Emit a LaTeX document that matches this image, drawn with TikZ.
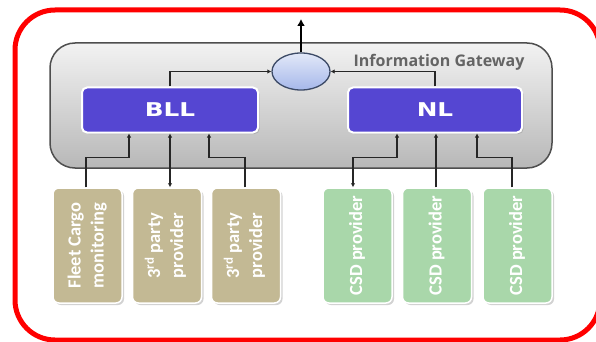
\documentclass[tikz,border=0pt]{standalone}
\usepackage{fontspec}
\setmainfont{Carlito}
\newfontfamily\gwfont{Open Sans}
\newfontfamily\blfont{DejaVu Sans}
\usetikzlibrary{shadows,arrows.meta,shapes.geometric}
\definecolor{srcTan}{HTML}{C3B994}
\definecolor{srcGreen}{HTML}{A9D7AA}
\definecolor{layerBlue}{HTML}{5546D2}
\definecolor{gwEdge}{HTML}{4E4E4E}
\definecolor{gwText}{HTML}{646464}
\definecolor{hubEdge}{HTML}{3C4A66}
\definecolor{hubTop}{HTML}{E2E8F8}
\definecolor{hubBot}{HTML}{A6B8EA}
\tikzset{
  gwbox/.style={draw=gwEdge, line width=1.5pt, rounded corners=25pt, top color=white!95!black, bottom color=black!28, inner sep=0pt},
  layer/.style={fill=layerBlue, draw=white, line width=2pt, rounded corners=5pt, inner sep=0pt,
    drop shadow={shadow xshift=1.5pt, shadow yshift=-1.5pt, opacity=0.35},
    text=white, font=\blfont\bfseries\fontsize{19}{19}\selectfont},
  src/.style={draw=white, line width=1.5pt, rounded corners=6pt, inner sep=0pt,
    minimum width=69pt, minimum height=115pt,
    drop shadow={shadow xshift=2pt, shadow yshift=-2pt, opacity=0.35},
    text=white, font=\bfseries\fontsize{18.5}{23}\selectfont},
  tanbox/.style={src, fill=srcTan},
  greenbox/.style={src, fill=srcGreen},
  conn/.style={draw=black!85, line width=1.1pt, -{Latex[length=4pt,width=4.5pt]}},
  biconn/.style={draw=black!85, line width=1.1pt, {Latex[length=4pt,width=4.5pt]}-{Latex[length=4pt,width=4.5pt]}},
}
\newcommand{\vtext}[1]{\rotatebox{90}{\begin{tabular}{@{}c@{}}#1\end{tabular}}}
\begin{document}
\begin{tikzpicture}[x=1pt,y=-1pt]
\useasboundingbox (0,0) rectangle (596,342);
\fill[white] (0,0) rectangle (596,342);
% red frame
\draw[red, line width=5pt, rounded corners=40pt] (15,10) rectangle (600,340);
% gateway
\node[gwbox, minimum width=502pt, minimum height=125pt] (gw) at (301,105.5) {};
\node[font=\gwfont\bfseries\fontsize{16}{16}\selectfont, text=gwText] (lbl) at (439,62) {Information Gateway};
% hub
\node[ellipse, draw=hubEdge, line width=1.3pt, top color=hubTop, bottom color=hubBot, minimum width=58pt, minimum height=37pt, inner sep=0pt] (hub) at (301,71.5) {};
\coordinate (out) at (301,19);
\draw[line width=2.4pt, -{Latex[length=7pt,width=8pt]}] (hub.north) -- (out);
% layers
\node[layer, minimum width=176pt, minimum height=45pt] (bll) at (170,110) {\scalebox{1.3}[1]{BLL}};
\node[layer, minimum width=174pt, minimum height=45pt] (nl) at (435,110) {\scalebox{1.3}[1]{NL}};
% sources
\node[tanbox] (f1) at (87.5,245.5) {\vtext{Fleet Cargo\\monitoring}};
\node[tanbox] (p1) at (167,245.5) {\vtext{3\textsuperscript{rd} party\\provider}};
\node[tanbox] (p2) at (246,245.5) {\vtext{3\textsuperscript{rd} party\\provider}};
\node[greenbox] (c1) at (357.5,245.5) {\vtext{CSD provider}};
\node[greenbox] (c2) at (437,245.5) {\vtext{CSD provider}};
\node[greenbox] (c3) at (517.5,245.5) {\vtext{CSD provider}};
% connectors to hub
\draw[conn] (bll.north) |- (hub.west);
\draw[conn] (nl.north) |- (hub.east);
% BLL connectors
\draw[conn] ([xshift=-1.5pt]f1.north) -- ++(0,-30) -| ([xshift=-41pt]bll.south);
\draw[biconn] (bll.south |- p1.north) -- (bll.south);
\draw[conn] ([xshift=-1pt]p2.north) -- ++(0,-30) -| ([xshift=39pt]bll.south);
% NL connectors
\draw[biconn] ([xshift=-4.5pt]c1.north) -- ++(0,-30) -| ([xshift=-38pt]nl.south);
\draw[conn] ([xshift=1pt]nl.south |- c2.north) -- ([xshift=1pt]nl.south);
\draw[conn] ([xshift=-5.5pt]c3.north) -- ++(0,-30) -| ([xshift=42pt]nl.south);
\end{tikzpicture}
\end{document}
